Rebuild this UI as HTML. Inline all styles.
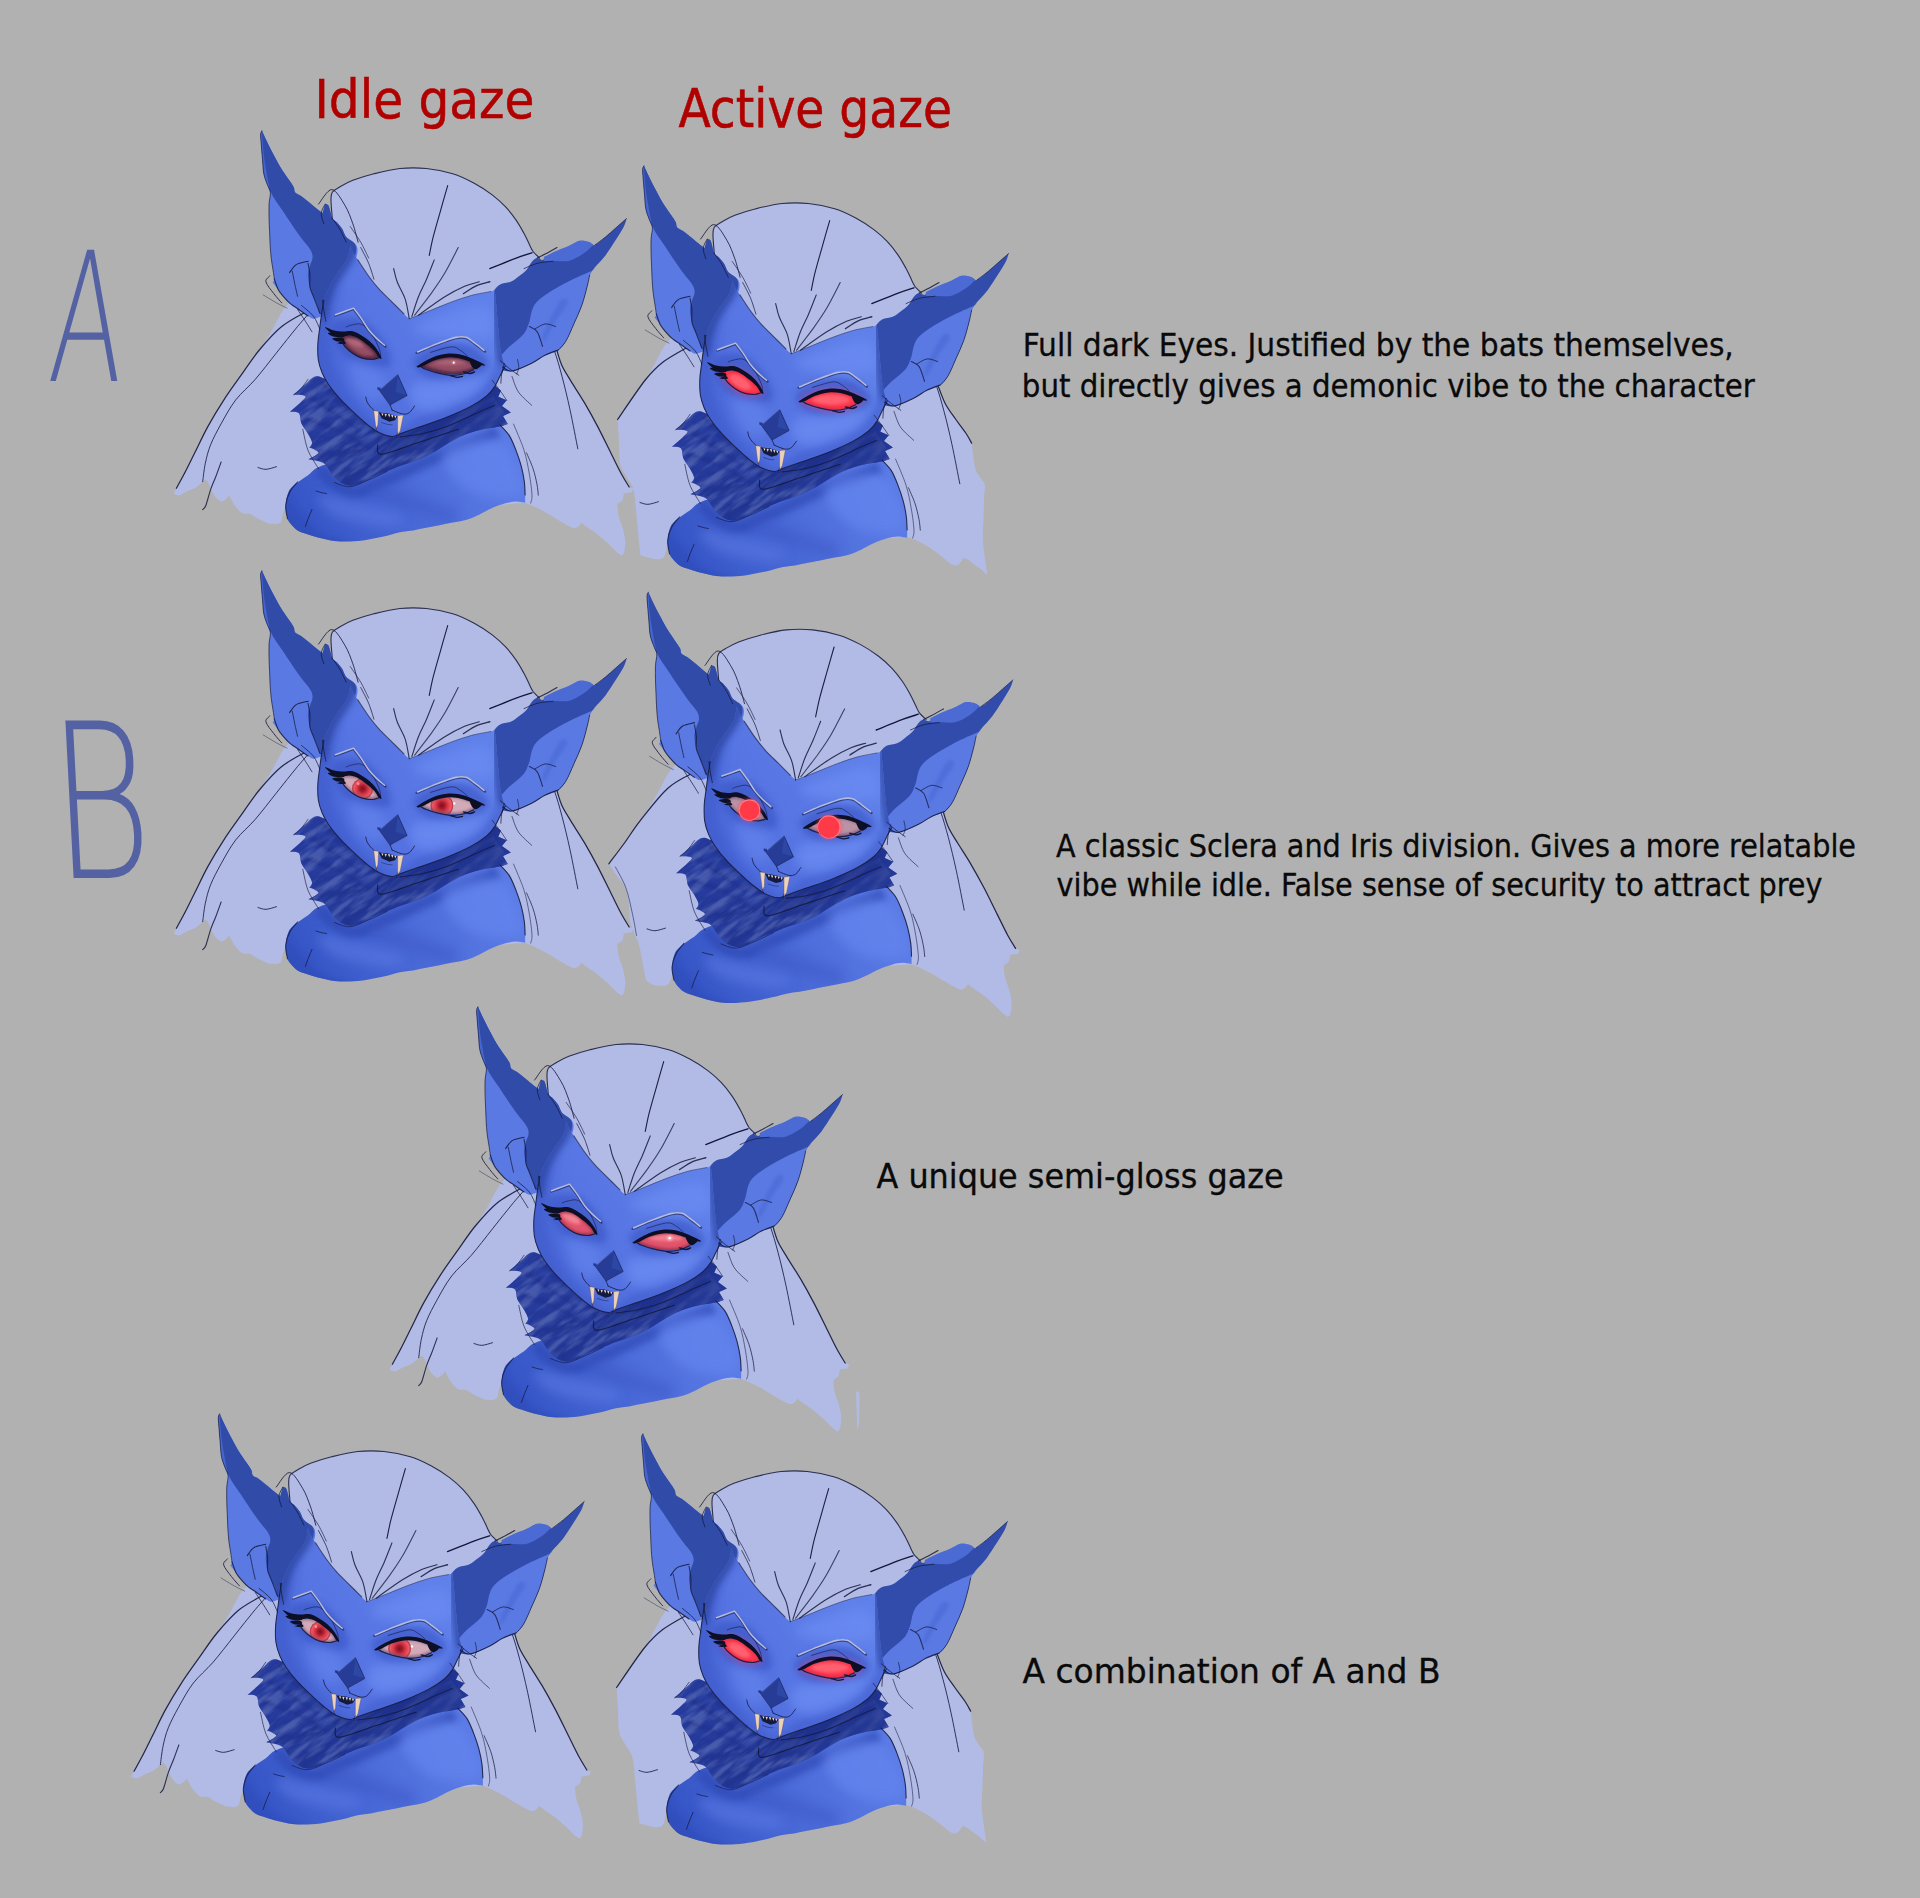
<!DOCTYPE html>
<html lang="en">
<head>
<meta charset="utf-8">
<title>Gaze variants</title>
<style>
html,body{margin:0;padding:0;background:#b1b1b1;}
body{width:1920px;height:1898px;overflow:hidden;position:relative;}
svg{position:absolute;left:0;top:0;display:block;}
.t{font-family:"DejaVu Sans Condensed","DejaVu Sans","Liberation Sans",sans-serif;}
.hd{font-size:52.5px;fill:#b10000;stroke:#b10000;stroke-width:.5px;}
.bd{font-size:32.5px;fill:#0a0a0a;stroke:#0a0a0a;stroke-width:.3px;}
.hw{font-family:"DejaVu Sans Light","DejaVu Sans","Liberation Sans",sans-serif;font-weight:200;fill:#4b5aa3;}
.ln{fill:none;stroke:#13173a;stroke-linecap:round;stroke-linejoin:round;}
</style>
</head>
<body>
<svg width="1920" height="1898" viewBox="0 0 1920 1898">
<defs>
<linearGradient id="gFace" gradientUnits="userSpaceOnUse" x1="680" y1="1150" x2="1250" y2="780">
<stop offset="0" stop-color="#4b69da"/><stop offset=".45" stop-color="#5775e3"/><stop offset="1" stop-color="#6081ea"/>
</linearGradient>
<linearGradient id="gBody" gradientUnits="userSpaceOnUse" x1="620" y1="1660" x2="1300" y2="1300">
<stop offset="0" stop-color="#3655c6"/><stop offset=".5" stop-color="#4a6ad8"/><stop offset="1" stop-color="#5b7be6"/>
</linearGradient>
<linearGradient id="gFur" gradientUnits="userSpaceOnUse" x1="560" y1="1100" x2="1300" y2="1350">
<stop offset="0" stop-color="#283ea2"/><stop offset=".5" stop-color="#21348f"/><stop offset="1" stop-color="#2a42a8"/>
</linearGradient>
<filter id="b6" x="-20%" y="-20%" width="140%" height="140%"><feGaussianBlur stdDeviation="6"/></filter>
<filter id="b12" x="-30%" y="-30%" width="160%" height="160%"><feGaussianBlur stdDeviation="12"/></filter>
<filter id="b20" x="-40%" y="-40%" width="180%" height="180%"><feGaussianBlur stdDeviation="20"/></filter>
<filter id="furtex" x="0" y="0" width="100%" height="100%"><feTurbulence type="fractalNoise" baseFrequency="0.008 0.04" numOctaves="3" seed="7" result="n"/><feColorMatrix in="n" type="matrix" values="0 0 0 0 0.10  0 0 0 0 0.15  0 0 0 0 0.47  0 0 0 3.5 -1.45" result="c"/><feComposite in="c" in2="SourceGraphic" operator="in"/></filter>
<filter id="furtex2" x="0" y="0" width="100%" height="100%"><feTurbulence type="fractalNoise" baseFrequency="0.009 0.045" numOctaves="2" seed="21" result="n"/><feColorMatrix in="n" type="matrix" values="0 0 0 0 0.27  0 0 0 0 0.37  0 0 0 0 0.78  0 0 0 3.0 -1.7" result="c"/><feComposite in="c" in2="SourceGraphic" operator="in"/></filter>

<g id="hairFull">
<path fill="#b2bbe6"  d="M530,770L600,640L692,450C692,450 687,396.7 687,380C687,363.3 686.5,358.3 692,350C697.5,341.7 707,337.5 720,330C733,322.5 748.3,313.3 770,305C791.7,296.7 820.2,287.5 850,280C879.8,272.5 915.8,263.3 949,260C982.2,256.7 1015.7,256.7 1049,260C1082.3,263.3 1119,270.8 1149,280C1179,289.2 1204,301.7 1229,315C1254,328.3 1279,345 1299,360C1319,375 1334,389.2 1349,405C1364,420.8 1377.3,438.3 1389,455C1400.7,471.7 1410.3,489.2 1419,505C1427.7,520.8 1435.2,538.3 1441,550C1446.8,561.7 1447.7,566.7 1454,575C1460.3,583.3 1479,600 1479,600L1500,800C1500,800 1533.3,914.2 1544,949C1554.7,983.8 1554.8,989 1564,1009C1573.2,1029 1584.8,1045.7 1599,1069C1613.2,1092.3 1632.3,1120.7 1649,1149C1665.7,1177.3 1682.3,1207.3 1699,1239C1715.7,1270.7 1734,1309 1749,1339C1764,1369 1777.3,1397.3 1789,1419C1800.7,1440.7 1819,1469 1819,1469L1834,1474L1829,1489L1799,1494L1794,1519L1774,1534C1774,1534 1775.7,1564 1779,1579C1782.3,1594 1789.8,1608.2 1794,1624C1798.2,1639.8 1803.2,1658.2 1804,1674C1804.8,1689.8 1801.5,1709.8 1799,1719C1796.5,1728.2 1789,1729 1789,1729C1789,1729 1777.3,1721.5 1769,1714C1760.7,1706.5 1750.7,1694.8 1739,1684C1727.3,1673.2 1714,1660.7 1699,1649C1684,1637.3 1659,1621.5 1649,1614C1639,1606.5 1639,1604 1639,1604C1639,1604 1626.5,1621.5 1619,1624C1611.5,1626.5 1605.7,1624 1594,1619C1582.3,1614 1564.8,1603.2 1549,1594C1533.2,1584.8 1514,1572.3 1499,1564C1484,1555.7 1471.5,1549.8 1459,1544C1446.5,1538.2 1424,1529 1424,1529L1000,1560L515,1544C515,1544 508.3,1559 505,1569C501.7,1579 502.5,1597.3 495,1604C487.5,1610.7 470.8,1609.8 460,1609C449.2,1608.2 440,1603.2 430,1599C420,1594.8 408.3,1588.7 400,1584C391.7,1579.3 388.3,1573.5 380,1571C371.7,1568.5 359.2,1573.5 350,1569C340.8,1564.5 331.7,1552.3 325,1544C318.3,1535.7 314.2,1526.5 310,1519C305.8,1511.5 300,1499 300,1499C300,1499 295,1509.8 290,1514C285,1518.2 276.7,1524.8 270,1524C263.3,1523.2 255.8,1515.7 250,1509C244.2,1502.3 239.7,1493.2 235,1484C230.3,1474.8 226.2,1461.2 222,1454C217.8,1446.8 210,1441 210,1441C210,1441 196.7,1453.5 190,1459C183.3,1464.5 178.3,1469.5 170,1474C161.7,1478.5 150,1481.5 140,1486C130,1490.5 118.3,1499.7 110,1501C101.7,1502.3 90,1494 90,1494C90,1494 93.3,1486.5 100,1474C106.7,1461.5 118.3,1441.5 130,1419C141.7,1396.5 155,1369 170,1339C185,1309 201.7,1272.3 220,1239C238.3,1205.7 258.3,1172.3 280,1139C301.7,1105.7 327.5,1070.7 350,1039C372.5,1007.3 396.7,975.5 415,949C433.3,922.5 445.8,904 460,880C474.2,856 488.3,823.3 500,805C511.7,786.7 530,770 530,770Z"/>
<path class="ln" stroke-width="4.7" opacity="0.9" d="M600,800C583.3,810 530.8,835.2 500,860C469.2,884.8 440,919.2 415,949C390,978.8 372.5,1007.3 350,1039C327.5,1070.7 301.7,1105.7 280,1139C258.3,1172.3 238.3,1205.7 220,1239C201.7,1272.3 185,1309 170,1339C155,1369 141.7,1396.5 130,1419C118.3,1441.5 105,1464.8 100,1474"/>
<path class="ln" stroke-width="3.7" opacity="0.85" d="M640,770C626.7,785 586.7,828.3 560,860C533.3,891.7 506.7,926.7 480,960C453.3,993.3 425.8,1030.2 400,1060C374.2,1089.8 346.7,1110.8 325,1139C303.3,1167.2 285.8,1200.7 270,1229C254.2,1257.3 240,1284 230,1309C220,1334 215,1355.7 210,1379C205,1402.3 201.7,1437.3 200,1449"/>
<path class="ln" stroke-width="4.2" opacity="0.85" d="M270,1374C266.7,1383.2 256.7,1411.5 250,1429C243.3,1446.5 236.3,1460.7 230,1479C223.7,1497.3 217,1526.3 212,1539C207,1551.7 202,1552.3 200,1555"/>
<path class="ln" stroke-width="3.7" opacity="0.85" d="M410,1395C415,1396.2 428.3,1402.5 440,1402C451.7,1401.5 473.3,1393.7 480,1392"/>
<path class="ln" stroke-width="4.7" opacity="0.9" d="M1544,949C1547.3,959 1554.8,989 1564,1009C1573.2,1029 1584.8,1045.7 1599,1069C1613.2,1092.3 1632.3,1120.7 1649,1149C1665.7,1177.3 1682.3,1207.3 1699,1239C1715.7,1270.7 1734,1309 1749,1339C1764,1369 1777.3,1397.3 1789,1419C1800.7,1440.7 1814,1460.7 1819,1469"/>
<path class="ln" stroke-width="3.7" opacity="0.85" d="M1500,870C1505.7,883.2 1523.3,919.2 1534,949C1544.7,978.8 1554,1011.5 1564,1049C1574,1086.5 1584,1128.2 1594,1174C1604,1219.8 1619,1299 1624,1324"/>
<path class="ln" stroke-width="3.2" opacity="0.75" d="M1374,1049C1378.2,1059 1386.5,1090.7 1399,1109C1411.5,1127.3 1440.7,1150.7 1449,1159"/>
<path class="ln" stroke-width="3.7" opacity="0.75" d="M1429,1339C1433.2,1349 1447.3,1379 1454,1399C1460.7,1419 1465.7,1442.2 1469,1459C1472.3,1475.8 1473.2,1493.2 1474,1500"/>
<path class="ln" stroke-width="3.2" opacity="0.65" d="M1380,1230C1386.7,1246.7 1410,1298.3 1420,1330C1430,1361.7 1435,1391.7 1440,1420C1445,1448.3 1449.2,1481.7 1450,1500C1450.8,1518.3 1445.8,1525 1445,1530"/>
</g>
<g id="hairA">
<path fill="#b2bbe6"  d="M530,770L600,640L692,450C692,450 687,396.7 687,380C687,363.3 686.5,358.3 692,350C697.5,341.7 707,337.5 720,330C733,322.5 748.3,313.3 770,305C791.7,296.7 820.2,287.5 850,280C879.8,272.5 915.8,263.3 949,260C982.2,256.7 1015.7,256.7 1049,260C1082.3,263.3 1119,270.8 1149,280C1179,289.2 1204,301.7 1229,315C1254,328.3 1279,345 1299,360C1319,375 1334,389.2 1349,405C1364,420.8 1377.3,438.3 1389,455C1400.7,471.7 1410.3,489.2 1419,505C1427.7,520.8 1435.2,538.3 1441,550C1446.8,561.7 1447.7,566.7 1454,575C1460.3,583.3 1479,600 1479,600L1500,800C1500,800 1527.5,908.3 1539,945C1550.5,981.7 1557.3,997.5 1569,1020C1580.7,1042.5 1595.7,1060.8 1609,1080C1622.3,1099.2 1639,1120 1649,1135C1659,1150 1669,1170 1669,1170C1669,1170 1671.5,1193.3 1674,1210C1676.5,1226.7 1678.2,1253.3 1684,1270C1689.8,1286.7 1703.2,1300 1709,1310C1714.8,1320 1717.8,1318.3 1719,1330C1720.2,1341.7 1716.8,1359.2 1716,1380C1715.2,1400.8 1714.8,1430 1714,1455C1713.2,1480 1710.2,1505 1711,1530C1711.8,1555 1716,1581.7 1719,1605C1722,1628.3 1729,1670 1729,1670C1729,1670 1710.7,1654.2 1699,1645C1687.3,1635.8 1669,1621.7 1659,1615C1649,1608.3 1639,1605 1639,1605C1639,1605 1626.5,1625.8 1619,1630C1611.5,1634.2 1605.7,1635.8 1594,1630C1582.3,1624.2 1564.8,1606.7 1549,1595C1533.2,1583.3 1515.7,1570 1499,1560C1482.3,1550 1462.3,1540.8 1449,1535C1435.7,1529.2 1419,1525 1419,1525L1000,1560L515,1544C515,1544 509.5,1589 502,1600C494.5,1611 485,1610.8 470,1610C455,1609.2 412,1595 412,1595C412,1595 409.8,1582.5 407,1555C404.2,1527.5 398.7,1465 395,1430C391.3,1395 390.8,1366.7 385,1345C379.2,1323.3 368.3,1315.8 360,1300C351.7,1284.2 340,1273.3 335,1250C330,1226.7 331.7,1188.3 330,1160C328.3,1131.7 325,1080 325,1080C325,1080 407.5,963.3 430,930C452.5,896.7 448.3,900.8 460,880C471.7,859.2 488.3,823.3 500,805C511.7,786.7 530,770 530,770Z"/>
<path class="ln" stroke-width="4.7" opacity="0.9" d="M600,800C583.3,810 528.3,838.3 500,860C471.7,881.7 459.2,893.3 430,930C400.8,966.7 342.5,1055 325,1080"/>
<path class="ln" stroke-width="3.7" opacity="0.85" d="M410,1395C415,1396.2 428.3,1402.5 440,1402C451.7,1401.5 473.3,1393.7 480,1392"/>
<path class="ln" stroke-width="4.7" opacity="0.9" d="M1539,945C1544,957.5 1557.3,997.5 1569,1020C1580.7,1042.5 1595.7,1060.8 1609,1080C1622.3,1099.2 1639,1120 1649,1135C1659,1150 1665.7,1164.2 1669,1170"/>
<path class="ln" stroke-width="3.7" opacity="0.85" d="M1500,870C1505.7,883.2 1523.3,919.2 1534,949C1544.7,978.8 1554,1011.5 1564,1049C1574,1086.5 1584,1128.2 1594,1174C1604,1219.8 1619,1299 1624,1324"/>
<path class="ln" stroke-width="3.2" opacity="0.75" d="M1374,1049C1378.2,1059 1386.5,1090.7 1399,1109C1411.5,1127.3 1440.7,1150.7 1449,1159"/>
<path class="ln" stroke-width="3.7" opacity="0.75" d="M1429,1339C1433.2,1349 1447.3,1379 1454,1399C1460.7,1419 1465.7,1442.2 1469,1459C1472.3,1475.8 1473.2,1493.2 1474,1500"/>
<path class="ln" stroke-width="3.2" opacity="0.65" d="M1380,1230C1386.7,1246.7 1410,1298.3 1420,1330C1430,1361.7 1435,1391.7 1440,1420C1445,1448.3 1449.2,1481.7 1450,1500C1450.8,1518.3 1445.8,1525 1445,1530"/>
</g>
<g id="hairB">
<path fill="#b2bbe6"  d="M530,770L600,640L692,450C692,450 687,396.7 687,380C687,363.3 686.5,358.3 692,350C697.5,341.7 707,337.5 720,330C733,322.5 748.3,313.3 770,305C791.7,296.7 820.2,287.5 850,280C879.8,272.5 915.8,263.3 949,260C982.2,256.7 1015.7,256.7 1049,260C1082.3,263.3 1119,270.8 1149,280C1179,289.2 1204,301.7 1229,315C1254,328.3 1279,345 1299,360C1319,375 1334,389.2 1349,405C1364,420.8 1377.3,438.3 1389,455C1400.7,471.7 1410.3,489.2 1419,505C1427.7,520.8 1435.2,538.3 1441,550C1446.8,561.7 1447.7,566.7 1454,575C1460.3,583.3 1479,600 1479,600L1500,800C1500,800 1533.3,914.2 1544,949C1554.7,983.8 1554.8,989 1564,1009C1573.2,1029 1584.8,1045.7 1599,1069C1613.2,1092.3 1632.3,1120.7 1649,1149C1665.7,1177.3 1682.3,1207.3 1699,1239C1715.7,1270.7 1734,1309 1749,1339C1764,1369 1777.3,1397.3 1789,1419C1800.7,1440.7 1819,1469 1819,1469L1834,1474L1829,1489L1799,1494L1794,1519L1774,1534C1774,1534 1775.7,1564 1779,1579C1782.3,1594 1789.8,1608.2 1794,1624C1798.2,1639.8 1803.2,1658.2 1804,1674C1804.8,1689.8 1801.5,1709.8 1799,1719C1796.5,1728.2 1789,1729 1789,1729C1789,1729 1777.3,1721.5 1769,1714C1760.7,1706.5 1750.7,1694.8 1739,1684C1727.3,1673.2 1714,1660.7 1699,1649C1684,1637.3 1659,1621.5 1649,1614C1639,1606.5 1639,1604 1639,1604C1639,1604 1626.5,1621.5 1619,1624C1611.5,1626.5 1605.7,1624 1594,1619C1582.3,1614 1564.8,1603.2 1549,1594C1533.2,1584.8 1514,1572.3 1499,1564C1484,1555.7 1471.5,1549.8 1459,1544C1446.5,1538.2 1424,1529 1424,1529L1000,1560L525,1533C525,1533 520,1560.5 515,1573C510,1585.5 506.7,1602.2 495,1608C483.3,1613.8 458.3,1611.3 445,1608C431.7,1604.7 415,1588 415,1588C415,1588 409.2,1554.7 405,1533C400.8,1511.3 395.8,1478.8 390,1458C384.2,1437.2 375.8,1423.8 370,1408C364.2,1392.2 358.3,1382.2 355,1363C351.7,1343.8 353.3,1314.7 350,1293C346.7,1271.3 342.5,1249.7 335,1233C327.5,1216.3 315,1207.2 305,1193C295,1178.8 275,1148 275,1148C275,1148 315,1095.5 335,1068C355,1040.5 374.2,1014.3 395,983C415.8,951.7 442.5,909.7 460,880C477.5,850.3 488.3,823.3 500,805C511.7,786.7 530,770 530,770Z"/>
<path class="ln" stroke-width="4.7" opacity="0.9" d="M600,800C583.3,810 534.2,829.5 500,860C465.8,890.5 422.5,948.3 395,983C367.5,1017.7 355,1040.5 335,1068C315,1095.5 285,1134.7 275,1148"/>
<path class="ln" stroke-width="3.2" opacity="0.65" d="M300,1160C306.7,1173.3 329.2,1210 340,1240C350.8,1270 358.3,1310 365,1340C371.7,1370 377.5,1406.7 380,1420"/>
<path class="ln" stroke-width="3.7" opacity="0.85" d="M420,1395C425,1396.2 438.3,1402.5 450,1402C461.7,1401.5 483.3,1393.7 490,1392"/>
<path class="ln" stroke-width="4.7" opacity="0.9" d="M1544,949C1547.3,959 1554.8,989 1564,1009C1573.2,1029 1584.8,1045.7 1599,1069C1613.2,1092.3 1632.3,1120.7 1649,1149C1665.7,1177.3 1682.3,1207.3 1699,1239C1715.7,1270.7 1734,1309 1749,1339C1764,1369 1777.3,1397.3 1789,1419C1800.7,1440.7 1814,1460.7 1819,1469"/>
<path class="ln" stroke-width="3.7" opacity="0.85" d="M1500,870C1505.7,883.2 1523.3,919.2 1534,949C1544.7,978.8 1554,1011.5 1564,1049C1574,1086.5 1584,1128.2 1594,1174C1604,1219.8 1619,1299 1624,1324"/>
<path class="ln" stroke-width="3.2" opacity="0.75" d="M1374,1049C1378.2,1059 1386.5,1090.7 1399,1109C1411.5,1127.3 1440.7,1150.7 1449,1159"/>
<path class="ln" stroke-width="3.7" opacity="0.75" d="M1429,1339C1433.2,1349 1447.3,1379 1454,1399C1460.7,1419 1465.7,1442.2 1469,1459C1472.3,1475.8 1473.2,1493.2 1474,1500"/>
<path class="ln" stroke-width="3.2" opacity="0.65" d="M1380,1230C1386.7,1246.7 1410,1298.3 1420,1330C1430,1361.7 1435,1391.7 1440,1420C1445,1448.3 1449.2,1481.7 1450,1500C1450.8,1518.3 1445.8,1525 1445,1530"/>
</g>
<g id="bodyface">
<path fill="url(#gBody)"  d="M650,1389C616.7,1401.3 616.7,1412.3 600,1424C583.3,1435.7 562.5,1448.2 550,1459C537.5,1469.8 530.8,1475.7 525,1489C519.2,1502.3 515.8,1524 515,1539C514.2,1554 517.5,1568.2 520,1579C522.5,1589.8 523.3,1594.8 530,1604C536.7,1613.2 548.3,1626.5 560,1634C571.7,1641.5 585,1644 600,1649C615,1654 633.3,1659.8 650,1664C666.7,1668.2 681.7,1672 700,1674C718.3,1676 739.2,1676.8 760,1676C780.8,1675.2 801.7,1672.7 825,1669C848.3,1665.3 879.3,1658.7 900,1654C920.7,1649.3 932.5,1644.3 949,1641C965.5,1637.7 982.3,1636.8 999,1634C1015.7,1631.2 1032.3,1627.3 1049,1624C1065.7,1620.7 1082.3,1617.3 1099,1614C1115.7,1610.7 1132.3,1607.3 1149,1604C1165.7,1600.7 1182.3,1599 1199,1594C1215.7,1589 1232.3,1581.5 1249,1574C1265.7,1566.5 1282.3,1556.2 1299,1549C1315.7,1541.8 1334,1535.2 1349,1531C1364,1526.8 1376.5,1524.3 1389,1524C1401.5,1523.7 1424,1529 1424,1529C1424,1529 1424.5,1512.3 1424,1499C1423.5,1485.7 1423.5,1467.3 1421,1449C1418.5,1430.7 1414.3,1409 1409,1389C1403.7,1369 1396.5,1348.2 1389,1329C1381.5,1309.8 1374,1289.8 1364,1274C1354,1258.2 1329,1234 1329,1234L1100,1250L800,1350C800,1350 683.3,1376.7 650,1389Z"/>
<clipPath id="cpBody"><path d="M650,1389C616.7,1401.3 616.7,1412.3 600,1424C583.3,1435.7 562.5,1448.2 550,1459C537.5,1469.8 530.8,1475.7 525,1489C519.2,1502.3 515.8,1524 515,1539C514.2,1554 517.5,1568.2 520,1579C522.5,1589.8 523.3,1594.8 530,1604C536.7,1613.2 548.3,1626.5 560,1634C571.7,1641.5 585,1644 600,1649C615,1654 633.3,1659.8 650,1664C666.7,1668.2 681.7,1672 700,1674C718.3,1676 739.2,1676.8 760,1676C780.8,1675.2 801.7,1672.7 825,1669C848.3,1665.3 879.3,1658.7 900,1654C920.7,1649.3 932.5,1644.3 949,1641C965.5,1637.7 982.3,1636.8 999,1634C1015.7,1631.2 1032.3,1627.3 1049,1624C1065.7,1620.7 1082.3,1617.3 1099,1614C1115.7,1610.7 1132.3,1607.3 1149,1604C1165.7,1600.7 1182.3,1599 1199,1594C1215.7,1589 1232.3,1581.5 1249,1574C1265.7,1566.5 1282.3,1556.2 1299,1549C1315.7,1541.8 1334,1535.2 1349,1531C1364,1526.8 1376.5,1524.3 1389,1524C1401.5,1523.7 1424,1529 1424,1529C1424,1529 1424.5,1512.3 1424,1499C1423.5,1485.7 1423.5,1467.3 1421,1449C1418.5,1430.7 1414.3,1409 1409,1389C1403.7,1369 1396.5,1348.2 1389,1329C1381.5,1309.8 1374,1289.8 1364,1274C1354,1258.2 1329,1234 1329,1234L1100,1250L800,1350C800,1350 683.3,1376.7 650,1389Z"/></clipPath>
<g clip-path="url(#cpBody)">
<path fill="none" stroke="#2f49b4" stroke-width="46" filter="url(#b12)" opacity=".7" d="M640,1400C660,1415 716.7,1483.3 760,1490C803.3,1496.7 843.3,1463.3 900,1440C956.7,1416.7 1030,1379.7 1100,1350C1170,1320.3 1283.3,1276.7 1320,1262"/>
<path fill="none" stroke="#3c57c3" stroke-width="60" filter="url(#b20)" opacity=".45" d="M839,1470C865.8,1480.8 946.3,1515.8 1000,1535C1053.7,1554.2 1134.2,1576.7 1161,1585"/>
<path fill="#6383ec" filter="url(#b20)" opacity=".75" d="M1120,1330C1145,1306.7 1253.3,1278.3 1300,1290C1346.7,1301.7 1383.3,1365 1400,1400C1416.7,1435 1425,1483.3 1400,1500C1375,1516.7 1291.7,1511.7 1250,1500C1208.3,1488.3 1171.7,1458.3 1150,1430C1128.3,1401.7 1095,1353.3 1120,1330Z"/>
<path fill="#5a78e2" filter="url(#b20)" opacity=".6" d="M640,1500C656.7,1491.7 746.7,1516.7 800,1530C853.3,1543.3 943.3,1565 960,1580C976.7,1595 943.3,1620 900,1620C856.7,1620 743.3,1600 700,1580C656.7,1560 623.3,1508.3 640,1500Z"/>
<path fill="#2f4bb8" filter="url(#b12)" opacity=".6" d="M500,1500C510,1476.7 536.7,1536.7 560,1560C583.3,1583.3 606.7,1618.3 640,1640C673.3,1661.7 783.3,1680 760,1690C736.7,1700 543.3,1731.7 500,1700C456.7,1668.3 490,1523.3 500,1500Z"/>
</g>
<path fill="url(#gFur)"  d="M635,1049C616.7,1048.8 605,1067.3 590,1079C575,1090.7 545,1119 545,1119C545,1119 585.8,1119 590,1124C594.2,1129 580,1139 570,1149C560,1159 530,1184 530,1184C530,1184 557.5,1181.5 565,1189C572.5,1196.5 570,1217.3 575,1229C580,1240.7 588.3,1247.3 595,1259C601.7,1270.7 613.3,1289 615,1299C616.7,1309 605,1319 605,1319C605,1319 640.8,1331.5 640,1339C639.2,1346.5 600,1364 600,1364C600,1364 638.3,1369.8 650,1374C661.7,1378.2 663.3,1381.5 670,1389C676.7,1396.5 681.7,1409 690,1419C698.3,1429 708.3,1441.5 720,1449C731.7,1456.5 746.7,1463.2 760,1464C773.3,1464.8 785,1459.8 800,1454C815,1448.2 833.3,1436.5 850,1429C866.7,1421.5 883.5,1415.7 900,1409C916.5,1402.3 930.8,1395.7 949,1389C967.2,1382.3 988.2,1377.3 1009,1369C1029.8,1360.7 1052.3,1350.7 1074,1339C1095.7,1327.3 1118.2,1310.7 1139,1299C1159.8,1287.3 1177.3,1277.3 1199,1269C1220.7,1260.7 1247.3,1254 1269,1249C1290.7,1244 1314.2,1242.2 1329,1239C1343.8,1235.8 1358,1230 1358,1230L1340,1200L1370,1186L1336,1162L1354,1140L1322,1126L1332,1104L1310,1085L1200,1100L900,1150L700,1080C700,1080 653.3,1049.2 635,1049Z"/>
<clipPath id="cpFur"><path d="M635,1049C616.7,1048.8 605,1067.3 590,1079C575,1090.7 545,1119 545,1119C545,1119 585.8,1119 590,1124C594.2,1129 580,1139 570,1149C560,1159 530,1184 530,1184C530,1184 557.5,1181.5 565,1189C572.5,1196.5 570,1217.3 575,1229C580,1240.7 588.3,1247.3 595,1259C601.7,1270.7 613.3,1289 615,1299C616.7,1309 605,1319 605,1319C605,1319 640.8,1331.5 640,1339C639.2,1346.5 600,1364 600,1364C600,1364 638.3,1369.8 650,1374C661.7,1378.2 663.3,1381.5 670,1389C676.7,1396.5 681.7,1409 690,1419C698.3,1429 708.3,1441.5 720,1449C731.7,1456.5 746.7,1463.2 760,1464C773.3,1464.8 785,1459.8 800,1454C815,1448.2 833.3,1436.5 850,1429C866.7,1421.5 883.5,1415.7 900,1409C916.5,1402.3 930.8,1395.7 949,1389C967.2,1382.3 988.2,1377.3 1009,1369C1029.8,1360.7 1052.3,1350.7 1074,1339C1095.7,1327.3 1118.2,1310.7 1139,1299C1159.8,1287.3 1177.3,1277.3 1199,1269C1220.7,1260.7 1247.3,1254 1269,1249C1290.7,1244 1314.2,1242.2 1329,1239C1343.8,1235.8 1358,1230 1358,1230L1340,1200L1370,1186L1336,1162L1354,1140L1322,1126L1332,1104L1310,1085L1200,1100L900,1150L700,1080C700,1080 653.3,1049.2 635,1049Z"/></clipPath>
<g clip-path="url(#cpFur)">
<g transform="rotate(-35 800 1280)"><rect x="400" y="900" width="900" height="800" fill="#000" filter="url(#furtex)"/><rect x="400" y="900" width="520" height="800" fill="#000" filter="url(#furtex2)" opacity=".3"/></g>
<path fill="#21348d" opacity=".55" filter="url(#b6)" d="M930,1285C963.3,1267.5 1046.7,1261.7 1100,1245C1153.3,1228.3 1212.5,1205.8 1250,1185C1287.5,1164.2 1304.2,1120 1325,1120C1345.8,1120 1373.3,1165 1375,1185C1376.7,1205 1364.2,1224.5 1335,1240C1305.8,1255.5 1247.5,1265 1200,1278C1152.5,1291 1100,1306 1050,1318C1000,1330 920,1355.5 900,1350C880,1344.5 896.7,1302.5 930,1285Z"/>
<path fill="none" stroke="#3a54bc" stroke-width="16" stroke-linecap="round" filter="url(#b12)" opacity=".45" d="M840,1290C820,1278.3 760,1240 720,1220C680,1200 620,1178.3 600,1170"/>
<path fill="none" stroke="#3a54bc" stroke-width="16" stroke-linecap="round" filter="url(#b12)" opacity=".45" d="M850,1300C831.7,1295 778.3,1278.3 740,1270C701.7,1261.7 640,1253.3 620,1250"/>
<path fill="none" stroke="#3a54bc" stroke-width="16" stroke-linecap="round" filter="url(#b12)" opacity=".45" d="M850,1320C833.3,1320 785,1320 750,1320C715,1320 658.3,1320 640,1320"/>
<path fill="none" stroke="#3a54bc" stroke-width="16" stroke-linecap="round" filter="url(#b12)" opacity=".45" d="M860,1340C845,1345 798.3,1360 770,1370C741.7,1380 703.3,1395 690,1400"/>
<path fill="none" stroke="#3a54bc" stroke-width="16" stroke-linecap="round" filter="url(#b12)" opacity=".45" d="M830,1260C813.3,1246.7 761.7,1206.7 730,1180C698.3,1153.3 655,1113.3 640,1100"/>
<path fill="none" stroke="#3a54bc" stroke-width="16" stroke-linecap="round" filter="url(#b12)" opacity=".45" d="M880,1360C870,1368.3 840,1395 820,1410C800,1425 770,1443.3 760,1450"/>
<path fill="none" stroke="#3a54bc" stroke-width="16" stroke-linecap="round" filter="url(#b12)" opacity=".45" d="M800,1230C790,1216.7 758.3,1173.3 740,1150C721.7,1126.7 698.3,1100 690,1090"/>
<path fill="none" stroke="#1c2c82" stroke-width="10" stroke-linecap="round" filter="url(#b6)" opacity=".5" d="M800,1300C783.3,1291.7 735,1265 700,1250C665,1235 608.3,1216.7 590,1210"/>
<path fill="none" stroke="#1c2c82" stroke-width="10" stroke-linecap="round" filter="url(#b6)" opacity=".5" d="M810,1330C795,1331.7 751.7,1336.7 720,1340C688.3,1343.3 636.7,1348.3 620,1350"/>
<path fill="none" stroke="#1c2c82" stroke-width="10" stroke-linecap="round" filter="url(#b6)" opacity=".5" d="M790,1250C775,1240 730,1210 700,1190C670,1170 625,1140 610,1130"/>
<path fill="none" stroke="#1c2c82" stroke-width="10" stroke-linecap="round" filter="url(#b6)" opacity=".5" d="M840,1380C830,1388.3 798.3,1416.7 780,1430C761.7,1443.3 738.3,1455 730,1460"/>
<path fill="none" stroke="#1c2c82" stroke-width="10" stroke-linecap="round" filter="url(#b6)" opacity=".5" d="M760,1180C750,1170 718.3,1138.3 700,1120C681.7,1101.7 658.3,1078.3 650,1070"/>
<path fill="#1f3190" opacity=".28" d="M635,1049C616.7,1048.8 605,1067.3 590,1079C575,1090.7 545,1119 545,1119C545,1119 585.8,1119 590,1124C594.2,1129 580,1139 570,1149C560,1159 530,1184 530,1184C530,1184 557.5,1181.5 565,1189C572.5,1196.5 570,1217.3 575,1229C580,1240.7 588.3,1247.3 595,1259C601.7,1270.7 613.3,1289 615,1299C616.7,1309 605,1319 605,1319C605,1319 640.8,1331.5 640,1339C639.2,1346.5 600,1364 600,1364C600,1364 638.3,1369.8 650,1374C661.7,1378.2 663.3,1381.5 670,1389C676.7,1396.5 681.7,1409 690,1419C698.3,1429 708.3,1441.5 720,1449C731.7,1456.5 746.7,1463.2 760,1464C773.3,1464.8 785,1459.8 800,1454C815,1448.2 833.3,1436.5 850,1429C866.7,1421.5 883.5,1415.7 900,1409C916.5,1402.3 930.8,1395.7 949,1389C967.2,1382.3 988.2,1377.3 1009,1369C1029.8,1360.7 1052.3,1350.7 1074,1339C1095.7,1327.3 1118.2,1310.7 1139,1299C1159.8,1287.3 1177.3,1277.3 1199,1269C1220.7,1260.7 1247.3,1254 1269,1249C1290.7,1244 1314.2,1242.2 1329,1239C1343.8,1235.8 1358,1230 1358,1230L1340,1200L1370,1186L1336,1162L1354,1140L1322,1126L1332,1104L1310,1085L1200,1100L900,1150L700,1080C700,1080 653.3,1049.2 635,1049Z"/>
<path fill="#1d2d86" filter="url(#b12)" opacity=".7" d="M700,1090C696.7,1098.3 750,1169.2 780,1200C810,1230.8 851.7,1260 880,1275C908.3,1290 913.3,1294.2 950,1290C986.7,1285.8 1050,1266.7 1100,1250C1150,1233.3 1213.3,1211.7 1250,1190C1286.7,1168.3 1311.7,1138.3 1320,1120C1328.3,1101.7 1353.3,1066.7 1300,1080C1246.7,1093.3 1083.3,1188.3 1000,1200C916.7,1211.7 850,1168.3 800,1150C750,1131.7 703.3,1081.7 700,1090Z"/>
</g>
<path fill="#5a79e3"  d="M425,117C425,117 420.5,122 420,130C419.5,138 420.8,149.2 422,165C423.2,180.8 425.3,205.8 427,225C428.7,244.2 429,264.2 432,280C435,295.8 440.8,308.3 445,320C449.2,331.7 455.8,337.5 457,350C458.2,362.5 452.8,378.3 452,395C451.2,411.7 451.7,432.5 452,450C452.3,467.5 453.3,483.3 454,500C454.7,516.7 455,533.3 456,550C457,566.7 458.2,584.2 460,600C461.8,615.8 465,631.7 467,645C469,658.3 472.3,672.2 472,680C471.7,687.8 465,692 465,692C465,692 479.5,710.3 487,720C494.5,729.7 502,740.8 510,750C518,759.2 525.8,767.5 535,775C544.2,782.5 554.2,787.5 565,795C575.8,802.5 590.5,814.2 600,820C609.5,825.8 612.8,830 622,830C631.2,830 655,820 655,820C655,820 685.8,770.8 700,745C714.2,719.2 726.7,688.3 740,665C753.3,641.7 772.5,623.3 780,605C787.5,586.7 790.8,569.2 785,555C779.2,540.8 754.2,530.8 745,520C735.8,509.2 735.8,499.2 730,490C724.2,480.8 716.3,471.7 710,465C703.7,458.3 696.2,456.7 692,450C687.8,443.3 687.5,433.3 685,425C682.5,416.7 680.3,405 677,400C673.7,395 665,395 665,395L655,430C655,430 639.2,417.5 630,410C620.8,402.5 609.2,392.5 600,385C590.8,377.5 583.3,370.8 575,365C566.7,359.2 555,355.8 550,350C545,344.2 549.2,338.3 545,330C540.8,321.7 533.3,312.5 525,300C516.7,287.5 505,271.7 495,255C485,238.3 474.2,217.5 465,200C455.8,182.5 446.7,163.8 440,150C433.3,136.2 425,117 425,117Z"/>
<path fill="#4666cf"  d="M425,117C425,117 420.5,122 420,130C419.5,138 420.8,149.2 422,165C423.2,180.8 425.3,205.8 427,225C428.7,244.2 429,264.2 432,280C435,295.8 440.8,308.3 445,320C449.2,331.7 447.8,334.2 457,350C466.2,365.8 500,415 500,415L560,400C560,400 552.5,361.7 550,350C547.5,338.3 549.2,338.3 545,330C540.8,321.7 533.3,312.5 525,300C516.7,287.5 505,271.7 495,255C485,238.3 474.2,217.5 465,200C455.8,182.5 446.7,163.8 440,150C433.3,136.2 425,117 425,117Z"/>
<path fill="#314ba9"  d="M425,117C425,117 433.3,136.2 440,150C446.7,163.8 455.8,182.5 465,200C474.2,217.5 485,238.3 495,255C505,271.7 516.7,287.5 525,300C533.3,312.5 540.8,321.7 545,330C549.2,338.3 545,344.2 550,350C555,355.8 566.7,359.2 575,365C583.3,370.8 590.8,377.5 600,385C609.2,392.5 620.8,402.5 630,410C639.2,417.5 655,430 655,430L665,395C665,395 673.7,395 677,400C680.3,405 682.5,416.7 685,425C687.5,433.3 687.8,443.3 692,450C696.2,456.7 703.7,458.3 710,465C716.3,471.7 724.2,480.8 730,490C735.8,499.2 736.7,510 745,520C753.3,530 775,536.7 780,550C785,563.3 782.5,581.7 775,600C767.5,618.3 745.8,643.3 735,660C724.2,676.7 716.7,686.7 710,700C703.3,713.3 699.2,726.7 695,740C690.8,753.3 687.5,765.8 685,780C682.5,794.2 686.7,820 680,825C673.3,830 652.5,817.5 645,810C637.5,802.5 638.8,790 635,780C631.2,770 626.7,761.7 622,750C617.3,738.3 610.7,724.2 607,710C603.3,695.8 600,678.3 600,665C600,651.7 604.2,640.8 607,630C609.8,619.2 616.5,610 617,600C617.5,590 617,582.5 610,570C603,557.5 586.7,540.8 575,525C563.3,509.2 552.5,493.3 540,475C527.5,456.7 513.3,435.8 500,415C486.7,394.2 470,375.8 460,350C450,324.2 445,286.7 440,260C435,233.3 432.5,213.8 430,190C427.5,166.2 425,117 425,117Z"/>
<path fill="#324cab"  d="M1809,450C1809,450 1782.3,473.3 1769,485C1755.7,496.7 1742.3,509.2 1729,520C1715.7,530.8 1699,545.8 1689,550C1679,554.2 1677.3,547.5 1669,545C1660.7,542.5 1647.3,535.5 1639,535C1630.7,534.5 1627.3,538.7 1619,542C1610.7,545.3 1600.7,549.5 1589,555C1577.3,560.5 1562.3,568.3 1549,575C1535.7,581.7 1519,589.7 1509,595C1499,600.3 1495.7,606.2 1489,607C1482.3,607.8 1475.7,598.7 1469,600C1462.3,601.3 1455.7,607.5 1449,615C1442.3,622.5 1437.3,635.8 1429,645C1420.7,654.2 1409,662.5 1399,670C1389,677.5 1380.7,685 1369,690C1357.3,695 1340.7,693.3 1329,700C1317.3,706.7 1308.8,719.2 1299,730C1289.2,740.8 1270,765 1270,765C1270,765 1280.8,788.8 1285,800C1289.2,811.2 1292.5,817.5 1295,832C1297.5,846.5 1298.3,869.5 1300,887C1301.7,904.5 1302.5,920.3 1305,937C1307.5,953.7 1312.5,973.2 1315,987C1317.5,1000.8 1320,1020 1320,1020C1320,1020 1352.5,1032.5 1374,1029C1395.5,1025.5 1428.2,1009 1449,999C1469.8,989 1482.2,977.3 1499,969C1515.8,960.7 1536.7,958 1550,949C1563.3,940 1569.2,931.5 1579,915C1588.8,898.5 1599,872.5 1609,850C1619,827.5 1630.7,803.3 1639,780C1647.3,756.7 1654,729.2 1659,710C1664,690.8 1664,677.5 1669,665C1674,652.5 1679,647.5 1689,635C1699,622.5 1715.7,607.5 1729,590C1742.3,572.5 1757.3,548.3 1769,530C1780.7,511.7 1792.3,493.3 1799,480C1805.7,466.7 1809,450 1809,450Z"/>
<path fill="#4b6ad4"  d="M1683,549C1683,549 1674,540.5 1665,538C1656,535.5 1641,531.7 1629,534C1617,536.3 1608,545.3 1593,552C1578,558.7 1555.3,566.7 1539,574C1522.7,581.3 1495,596 1495,596L1495,612C1495,612 1522.7,611.3 1539,611C1555.3,610.7 1575,614.8 1593,610C1611,605.2 1632,592.2 1647,582C1662,571.8 1683,549 1683,549Z"/>
<path fill="#5a79e3"  d="M1683,646C1683,646 1611,675.7 1575,696C1539,716.3 1489.8,742.7 1467,768C1444.2,793.3 1446.5,827.5 1438,848C1429.5,868.5 1429.2,875.5 1416,891C1402.8,906.5 1372.8,927.8 1359,941C1345.2,954.2 1333,970 1333,970L1342,1012C1342,1012 1356.2,1031.2 1374,1029C1391.8,1026.8 1428.2,1009 1449,999C1469.8,989 1482.2,977.3 1499,969C1515.8,960.7 1536.7,958 1550,949C1563.3,940 1569.2,931.5 1579,915C1588.8,898.5 1599,872.5 1609,850C1619,827.5 1630.7,803.3 1639,780C1647.3,756.7 1654,729.2 1659,710C1664,690.8 1664,677.5 1669,665C1674,652.5 1689,635 1689,635L1683,646Z"/>
<path fill="#4c6ad6" filter="url(#b6)" opacity=".7" d="M1560,760C1549.2,770 1531.7,806.7 1520,830C1508.3,853.3 1493.3,886.7 1490,900C1486.7,913.3 1491.7,920 1500,910C1508.3,900 1525.8,863.3 1540,840C1554.2,816.7 1581.7,783.3 1585,770C1588.3,756.7 1570.8,750 1560,760Z"/>
<path fill="url(#gFace)"  d="M760,550C760,550 767.2,570.5 772,580C776.8,589.5 779.5,592.5 789,607C798.5,621.5 815.7,648.7 829,667C842.3,685.3 854,700.3 869,717C884,733.7 903.2,751.2 919,767C934.8,782.8 953.2,801.5 964,812C974.8,822.5 984,830 984,830C984,830 1004.8,822.5 1019,817C1033.2,811.5 1048.2,805.3 1069,797C1089.8,788.7 1119,776.2 1144,767C1169,757.8 1194,748.7 1219,742C1244,735.3 1279,730.3 1294,727C1309,723.7 1309,722 1309,722C1309,722 1312.3,753.7 1314,772C1315.7,790.3 1317.3,812.8 1319,832C1320.7,851.2 1322.3,869.5 1324,887C1325.7,904.5 1326.5,920.3 1329,937C1331.5,953.7 1335.7,974.8 1339,987C1342.3,999.2 1349.8,1001.7 1349,1010C1348.2,1018.3 1340.7,1024.2 1334,1037C1327.3,1049.8 1318.2,1072.8 1309,1087C1299.8,1101.2 1294,1109.5 1279,1122C1264,1134.5 1245.7,1147.8 1219,1162C1192.3,1176.2 1152.3,1193.7 1119,1207C1085.7,1220.3 1047.3,1232 1019,1242C990.7,1252 965.7,1261.2 949,1267C932.3,1272.8 932.3,1277.8 919,1277C905.7,1276.2 885.7,1270.3 869,1262C852.3,1253.7 835.7,1240.3 819,1227C802.3,1213.7 785.7,1197.8 769,1182C752.3,1166.2 734,1148.7 719,1132C704,1115.3 689.8,1097.8 679,1082C668.2,1066.2 660.7,1052.8 654,1037C647.3,1021.2 641.8,1005.3 639,987C636.2,968.7 636.2,947 637,927C637.8,907 641.5,887 644,867C646.5,847 649.3,824.8 652,807C654.7,789.2 654.5,777.8 660,760C665.5,742.2 676.7,716.7 685,700C693.3,683.3 699.2,676.7 710,660C720.8,643.3 741.7,618.3 750,600C758.3,581.7 760,550 760,550Z"/>
<clipPath id="cpFace"><path d="M760,550C760,550 767.2,570.5 772,580C776.8,589.5 779.5,592.5 789,607C798.5,621.5 815.7,648.7 829,667C842.3,685.3 854,700.3 869,717C884,733.7 903.2,751.2 919,767C934.8,782.8 953.2,801.5 964,812C974.8,822.5 984,830 984,830C984,830 1004.8,822.5 1019,817C1033.2,811.5 1048.2,805.3 1069,797C1089.8,788.7 1119,776.2 1144,767C1169,757.8 1194,748.7 1219,742C1244,735.3 1279,730.3 1294,727C1309,723.7 1309,722 1309,722C1309,722 1312.3,753.7 1314,772C1315.7,790.3 1317.3,812.8 1319,832C1320.7,851.2 1322.3,869.5 1324,887C1325.7,904.5 1326.5,920.3 1329,937C1331.5,953.7 1335.7,974.8 1339,987C1342.3,999.2 1349.8,1001.7 1349,1010C1348.2,1018.3 1340.7,1024.2 1334,1037C1327.3,1049.8 1318.2,1072.8 1309,1087C1299.8,1101.2 1294,1109.5 1279,1122C1264,1134.5 1245.7,1147.8 1219,1162C1192.3,1176.2 1152.3,1193.7 1119,1207C1085.7,1220.3 1047.3,1232 1019,1242C990.7,1252 965.7,1261.2 949,1267C932.3,1272.8 932.3,1277.8 919,1277C905.7,1276.2 885.7,1270.3 869,1262C852.3,1253.7 835.7,1240.3 819,1227C802.3,1213.7 785.7,1197.8 769,1182C752.3,1166.2 734,1148.7 719,1132C704,1115.3 689.8,1097.8 679,1082C668.2,1066.2 660.7,1052.8 654,1037C647.3,1021.2 641.8,1005.3 639,987C636.2,968.7 636.2,947 637,927C637.8,907 641.5,887 644,867C646.5,847 649.3,824.8 652,807C654.7,789.2 654.5,777.8 660,760C665.5,742.2 676.7,716.7 685,700C693.3,683.3 699.2,676.7 710,660C720.8,643.3 741.7,618.3 750,600C758.3,581.7 760,550 760,550Z"/></clipPath>
<g clip-path="url(#cpFace)">
<path fill="#3f5bcb" filter="url(#b20)" opacity=".75" d="M600,600C616.7,486.7 685,586.7 700,620C715,653.3 691.7,745 690,800C688.3,855 683.3,903.3 690,950C696.7,996.7 711.7,1041.7 730,1080C748.3,1118.3 771.7,1150 800,1180C828.3,1210 876.7,1240 900,1260C923.3,1280 990,1293.3 940,1300C890,1306.7 656.7,1416.7 600,1300C543.3,1183.3 583.3,713.3 600,600Z"/>
<path fill="#3f5bcb" filter="url(#b12)" opacity=".55" d="M960,1300C893.3,1285.8 973.3,1235.8 1000,1215C1026.7,1194.2 1081.7,1190.8 1120,1175C1158.3,1159.2 1200,1142.5 1230,1120C1260,1097.5 1283.3,1066.7 1300,1040C1316.7,1013.3 1313.3,966.7 1330,960C1346.7,953.3 1388.3,943.3 1400,1000C1411.7,1056.7 1473.3,1250 1400,1300C1326.7,1350 1026.7,1314.2 960,1300Z"/>
<path fill="#405ccb" filter="url(#b12)" opacity=".8" d="M690,850C703.3,830 766.7,823.3 800,835C833.3,846.7 871.7,891.7 890,920C908.3,948.3 921.7,990 910,1005C898.3,1020 851.7,1018.3 820,1010C788.3,1001.7 741.7,981.7 720,955C698.3,928.3 676.7,870 690,850Z"/>
<path fill="#405ccb" filter="url(#b12)" opacity=".75" d="M1000,990C1005,967.5 1065,940 1100,930C1135,920 1179.2,918.3 1210,930C1240.8,941.7 1285,977.5 1285,1000C1285,1022.5 1245.8,1054.2 1210,1065C1174.2,1075.8 1105,1077.5 1070,1065C1035,1052.5 995,1012.5 1000,990Z"/>
<path fill="#6c8cf2" filter="url(#b20)" opacity=".7" d="M1000,860C1016.7,841.7 1151.7,800 1200,790C1248.3,780 1275,781.7 1290,800C1305,818.3 1321.7,883.3 1290,900C1258.3,916.7 1148.3,906.7 1100,900C1051.7,893.3 983.3,878.3 1000,860Z"/>
<path fill="#6c8cf2" filter="url(#b20)" opacity=".75" d="M1000,1080C1025,1063.3 1106.7,1066.7 1150,1060C1193.3,1053.3 1248.3,1031.7 1260,1040C1271.7,1048.3 1250,1088.3 1220,1110C1190,1131.7 1116.7,1161.7 1080,1170C1043.3,1178.3 1013.3,1175 1000,1160C986.7,1145 975,1096.7 1000,1080Z"/>
<path fill="#6686ee" filter="url(#b20)" opacity=".6" d="M760,1000C771.7,985 836.7,1006.7 860,1020C883.3,1033.3 900,1058.3 900,1080C900,1101.7 878.3,1145 860,1150C841.7,1155 806.7,1135 790,1110C773.3,1085 748.3,1015 760,1000Z"/>
</g>
<g clip-path="url(#cpFace)">
<path fill="none" stroke="#314ba9" stroke-width="46" filter="url(#b12)" opacity=".9" d="M770,540C766.7,550 760,580 750,600C740,620 720.8,643.3 710,660C699.2,676.7 691.7,686.7 685,700C678.3,713.3 674.5,726.7 670,740C665.5,753.3 661.3,765 658,780C654.7,795 651.3,821.7 650,830"/>
<path fill="none" stroke="#324cab" stroke-width="40" filter="url(#b12)" opacity=".85" d="M1315,715C1316.2,734.5 1319.5,795 1322,832C1324.5,869 1326.2,909 1330,937C1333.8,965 1342.5,989.5 1345,1000"/>
</g>
<path class="ln" opacity=".85" stroke-width="4" d="M660,760C658.7,767.8 654.7,789.2 652,807C649.3,824.8 646.5,847 644,867C641.5,887 637.8,907 637,927C636.2,947 636.2,968.7 639,987C641.8,1005.3 647.3,1021.2 654,1037C660.7,1052.8 668.2,1066.2 679,1082C689.8,1097.8 704,1115.3 719,1132C734,1148.7 752.3,1166.2 769,1182C785.7,1197.8 802.3,1213.7 819,1227C835.7,1240.3 852.3,1253.7 869,1262C885.7,1270.3 905.7,1276.2 919,1277C932.3,1277.8 932.3,1272.8 949,1267C965.7,1261.2 990.7,1252 1019,1242C1047.3,1232 1085.7,1220.3 1119,1207C1152.3,1193.7 1192.3,1176.2 1219,1162C1245.7,1147.8 1264,1134.5 1279,1122C1294,1109.5 1299.8,1101.2 1309,1087C1318.2,1072.8 1327.3,1049.8 1334,1037C1340.7,1024.2 1346.5,1014.5 1349,1010"/>
<path class="ln" opacity=".6" stroke-width="3" d="M984,830C989.8,827.8 1004.8,822.5 1019,817C1033.2,811.5 1048.2,805.3 1069,797C1089.8,788.7 1119,776.2 1144,767C1169,757.8 1194,748.7 1219,742C1244,735.3 1281.5,729.5 1294,727"/>
<path fill="#263c96"  d="M941,1044L976,1122L911,1158L872,1104Z"/>
<path fill="#2d47a5"  d="M941,1044L976,1122L932,1108Z"/>
<path fill="#243a90"  d="M862,1090L876,1092L874,1104L864,1100Z"/>
<path class="ln" opacity=".6" stroke-width="3" d="M941,1044L976,1122L911,1158L872,1104Z"/>
<path class="ln" stroke-width="3" d="M911,1158C911.8,1159.7 914.7,1164.8 916,1168C917.3,1171.2 918.5,1175.5 919,1177"/>
<path class="ln" stroke-width="3" d="M819,1127C820.2,1130.8 821,1141.7 826,1150C831,1158.3 841.3,1170.7 849,1177C856.7,1183.3 868.2,1186.2 872,1188"/>
<path class="ln" stroke-width="3" d="M919,1177C925.7,1179.5 948.2,1190.3 959,1192C969.8,1193.7 976.5,1192 984,1187C991.5,1182 1000.7,1166.2 1004,1162"/>
<path fill="#141a3e"  d="M869,1186L905,1190L940,1201L930,1216L909,1221L879,1208Z"/>
<path fill="#e9d5c4"  d="M878,1189L886,1190L883,1200ZM890,1191L899,1192L895,1203ZM903,1192L912,1194L908,1205ZM915,1195L924,1197L920,1207ZM927,1198L935,1200L931,1209Z"/>
<path fill="#ecd2bb" stroke="#5a4660" stroke-width="1.5" d="M849,1179L868,1182L865,1234L858,1248Z"/>
<path fill="#ecd2bb" stroke="#5a4660" stroke-width="1.5" d="M940,1198L962,1196L950,1256L940,1272Z"/>
<path class="ln" stroke-width="2.5" opacity=".7" d="M879,1224C882.5,1225.2 893.3,1229.5 900,1231C906.7,1232.5 915.8,1232.7 919,1233"/>
<path class="ln" stroke-width="2.5" opacity=".7" d="M858,1244C858.3,1245.3 859.2,1249.3 860,1252C860.8,1254.7 862.5,1258.7 863,1260"/>
<path class="ln" stroke-width="2.5" opacity=".7" d="M940,1264C939.5,1265.3 937.7,1269.3 937,1272C936.3,1274.7 936.2,1278.7 936,1280"/>
<path class="ln" stroke-width="4.2" opacity="0.85" d="M692,450C691.2,438.3 687,396.7 687,380C687,363.3 686.5,358.3 692,350C697.5,341.7 707,337.5 720,330C733,322.5 748.3,313.3 770,305C791.7,296.7 820.2,287.5 850,280C879.8,272.5 915.8,263.3 949,260C982.2,256.7 1015.7,256.7 1049,260C1082.3,263.3 1119,270.8 1149,280C1179,289.2 1204,301.7 1229,315C1254,328.3 1279,345 1299,360C1319,375 1334,389.2 1349,405C1364,420.8 1377.3,438.3 1389,455C1400.7,471.7 1410.3,489.2 1419,505C1427.7,520.8 1435.2,538.3 1441,550C1446.8,561.7 1447.7,566.7 1454,575C1460.3,583.3 1474.8,595.8 1479,600"/>
<path class="ln" stroke-width="3.7" opacity="0.85" d="M640,395C648.3,385.8 673.3,339.2 690,340C706.7,340.8 726.7,378.3 740,400C753.3,421.7 761.7,446.7 770,470C778.3,493.3 786.7,528.3 790,540"/>
<path class="ln" stroke-width="4.2" opacity="0.9500000000000001" d="M1130,325C1125,342.5 1109.2,397.5 1100,430C1090.8,462.5 1081.7,493.3 1075,520C1068.3,546.7 1062.5,578.3 1060,590"/>
<path class="ln" stroke-width="4.2" opacity="0.85" d="M984,830C981.5,817.8 976.5,780 969,757C961.5,734 946.3,711.5 939,692C931.7,672.5 927.3,648.7 925,640"/>
<path class="ln" stroke-width="4.2" opacity="0.85" d="M994,822C998.2,809.5 1009.8,770.3 1019,747C1028.2,723.7 1039,705.3 1049,682C1059,658.7 1074,619.5 1079,607"/>
<path class="ln" stroke-width="4.2" opacity="0.75" d="M1004,817C1014.8,802.8 1049.8,758.7 1069,732C1088.2,705.3 1102.2,685.7 1119,657C1135.8,628.3 1161.5,576.2 1170,560"/>
<path class="ln" stroke-width="4.2" opacity="0.85" d="M1019,817C1035.7,805.3 1089.8,765.3 1119,747C1148.2,728.7 1172.2,716.5 1194,707C1215.8,697.5 1240.7,692.8 1250,690"/>
<path class="ln" stroke-width="4.2" opacity="0.65" d="M789,607C795.7,617 815.7,648.7 829,667C842.3,685.3 854,700.3 869,717C884,733.7 903.2,751.2 919,767C934.8,782.8 956.5,804.5 964,812"/>
<path class="ln" stroke-width="3.7" opacity="0.75" d="M800,560C805,570 821.7,600 830,620C838.3,640 846.7,670 850,680"/>
<path class="ln" stroke-width="3.7" opacity="0.65" d="M760,480C766.7,490 788.3,520 800,540C811.7,560 825,590 830,600"/>
<path class="ln" stroke-width="5.2" opacity="1" d="M1290,640C1306.7,633.3 1363.3,610 1390,600C1416.7,590 1440,583.3 1450,580"/>
<path class="ln" stroke-width="5.2" opacity="0.85" d="M1190,735C1198.3,730 1223.3,712.5 1240,705C1256.7,697.5 1281.7,692.5 1290,690"/>
<path class="ln" stroke-width="4.2" opacity="0.85" d="M1329,1234C1334.8,1240.7 1354,1258.2 1364,1274C1374,1289.8 1381.5,1309.8 1389,1329C1396.5,1348.2 1403.7,1369 1409,1389C1414.3,1409 1418.5,1430.7 1421,1449C1423.5,1467.3 1423.5,1490.7 1424,1499"/>
<path class="ln" stroke-width="4.2" opacity="0.75" d="M560,1450C555,1456.5 537.5,1474.2 530,1489C522.5,1503.8 516.3,1522.2 515,1539C513.7,1555.8 520.8,1581.5 522,1590"/>
<path class="ln" stroke-width="3.7" opacity="0.75" d="M615,1554C612.5,1560 604.2,1579.2 600,1590C595.8,1600.8 591.7,1614.2 590,1619"/>
<path class="ln" stroke-width="3.7" opacity="0.75" d="M630,1484C633.3,1485 643.3,1488.3 650,1490C656.7,1491.7 666.7,1493.3 670,1494"/>
<path class="ln" stroke-width="4.2" opacity="0.75" d="M949,1279C961.5,1277.3 999,1274 1024,1269C1049,1264 1074,1257.3 1099,1249C1124,1240.7 1149,1229.8 1174,1219C1199,1208.2 1226.5,1194 1249,1184C1271.5,1174 1299,1163.2 1309,1159"/>
<path class="ln" stroke-width="4.2" opacity="0.85" d="M864,1310C866.7,1315.8 854,1346.7 880,1345C906,1343.3 971.7,1315.8 1020,1300C1068.3,1284.2 1145,1258.3 1170,1250"/>
<path class="ln" stroke-width="3.7" opacity="0.65" d="M700,1452C710,1454.7 738.3,1469.7 760,1468C781.7,1466.3 806.7,1451.7 830,1442C853.3,1432.3 888.3,1415.3 900,1410"/>
<path class="ln" stroke-width="3.7" opacity="0.7000000000000001" d="M425,117C424.2,119.2 420.5,122 420,130C419.5,138 420.8,149.2 422,165C423.2,180.8 425.3,205.8 427,225C428.7,244.2 429,264.2 432,280C435,295.8 440.8,308.3 445,320C449.2,331.7 455.8,337.5 457,350C458.2,362.5 452.8,378.3 452,395C451.2,411.7 451.7,432.5 452,450C452.3,467.5 453.3,483.3 454,500C454.7,516.7 455,533.3 456,550C457,566.7 458.2,584.2 460,600C461.8,615.8 465,631.7 467,645C469,658.3 471.2,674.2 472,680"/>
<path class="ln" stroke-width="4.2" opacity="0.85" d="M530,655C534.2,650 543.3,632.2 555,625C566.7,617.8 592.5,614.2 600,612"/>
<path class="ln" stroke-width="3.7" opacity="0.75" d="M540,650C541.7,658.3 546.7,684.2 550,700C553.3,715.8 558.3,737.5 560,745"/>
<path class="ln" stroke-width="4.2" opacity="0.85" d="M472,680C474.5,686.7 480.7,708.3 487,720C493.3,731.7 502,740.8 510,750C518,759.2 525.8,767.5 535,775C544.2,782.5 554.2,787.5 565,795C575.8,802.5 594.2,815.8 600,820"/>
<path class="ln" stroke-width="4.2" opacity="0.75" d="M600,620C601.2,627.5 605.8,650 607,665C608.2,680 604.5,695.8 607,710C609.5,724.2 615.7,733.3 622,750C628.3,766.7 641.2,800 645,810"/>
<path class="ln" stroke-width="3.7" opacity="0.65" d="M1809,450C1802.3,455.8 1782.3,473.3 1769,485C1755.7,496.7 1742.3,509.2 1729,520C1715.7,530.8 1695.7,545 1689,550"/>
<path class="ln" stroke-width="3.7" opacity="0.7000000000000001" d="M1550,949C1554.8,943.3 1569.2,931.5 1579,915C1588.8,898.5 1599,872.5 1609,850C1619,827.5 1630.7,803.3 1639,780C1647.3,756.7 1654,729.2 1659,710C1664,690.8 1667.3,672.5 1669,665"/>
<path class="ln" stroke-width="4.2" opacity="0.85" d="M1339,1014C1344.8,1016.5 1355.7,1031.5 1374,1029C1392.3,1026.5 1428.2,1009 1449,999C1469.8,989 1482.2,977.3 1499,969C1515.8,960.7 1541.5,952.3 1550,949"/>
<path class="ln" stroke-width="4.2" opacity="0.75" d="M1440,860C1445,863.3 1461.7,867.5 1470,880C1478.3,892.5 1486.7,925.8 1490,935"/>
<path class="ln" stroke-width="3.7" opacity="0.75" d="M1460,870C1466.7,866.7 1486.7,851.7 1500,850C1513.3,848.3 1533.3,858.3 1540,860"/>
<path class="ln" stroke-width="3.7" opacity="0.85" d="M455,668C452.5,671.7 437.5,678.8 440,690C442.5,701.2 460,721.7 470,735C480,748.3 495,764.2 500,770"/>
<path class="ln" stroke-width="3.7" opacity="0.75" d="M560,795C565,802.5 580.8,825.8 590,840C599.2,854.2 610.8,873.3 615,880"/>
<path class="ln" stroke-width="3.7" opacity="0.75" d="M575,780C582.5,786.7 608.3,805 620,820C631.7,835 640.8,861.7 645,870"/>
<path class="ln" stroke-width="3.7" opacity="0.75" d="M655,760C655.8,766.7 657.8,786.7 660,800C662.2,813.3 666.7,833.3 668,840"/>
<path class="ln" stroke-width="3.2" opacity="0.5" d="M430,740C438.3,745 465,761.7 480,770C495,778.3 513.3,786.7 520,790"/>
<path class="ln" stroke-width="3.7" opacity="0.75" d="M1330,990C1335.8,995 1353.3,1010.8 1365,1020C1376.7,1029.2 1394.2,1040.8 1400,1045"/>
<path class="ln" stroke-width="3.7" opacity="0.75" d="M1345,1000C1343.3,1006.7 1337.2,1027.5 1335,1040C1332.8,1052.5 1332.5,1069.2 1332,1075"/>
<path class="ln" stroke-width="3.7" opacity="0.65" d="M1395,985C1395.8,990 1400.5,1005.8 1400,1015C1399.5,1024.2 1393.3,1035.8 1392,1040"/>
<path class="ln" stroke-width="4.2" opacity="0.85" d="M1470,600C1475,597.5 1487.5,591.7 1500,585C1512.5,578.3 1537.5,564.2 1545,560"/>
<path class="ln" stroke-width="3.7" opacity="0.75" d="M1420,640C1428.3,636.7 1451.7,624.7 1470,620C1488.3,615.3 1520,613.3 1530,612"/>
<path class="ln" stroke-width="3.7" opacity="0.75" d="M665,395C662.5,400.8 650.8,417.5 650,430C649.2,442.5 658.3,463.3 660,470"/>
<path class="ln" stroke-width="3.7" opacity="0.75" d="M692,450C696.7,456.7 711.2,475 720,490C728.8,505 740.8,531.7 745,540"/>
<path class="ln" stroke-width="3.7" opacity="0.65" d="M600,1060C595,1066.7 579.2,1090.2 570,1100C560.8,1109.8 549.2,1115.8 545,1119"/>
<path class="ln" stroke-width="3.7" opacity="0.65" d="M580,1250C583.3,1263.3 590,1305 600,1330C610,1355 633.3,1388.3 640,1400"/>
<path class="ln" stroke-width="3.7" opacity="0.65" d="M1299,1064C1304.2,1070.8 1320.8,1092.3 1330,1105C1339.2,1117.7 1350,1134.2 1354,1140"/>
</g>
<g id="facetop">
<path fill="#0d0f24"  d="M664,862C663.8,858.7 687.3,872.2 699,875C710.7,877.8 723,878.7 734,879C745,879.3 754.5,875.2 765,877C775.5,878.8 785.7,883.7 797,890C808.3,896.3 822.2,905.5 833,915C843.8,924.5 854.3,936.2 862,947C869.7,957.8 878,975 879,980C880,985 872.5,981.5 868,977C863.5,972.5 859.3,961.2 852,953C844.7,944.8 834,936 824,928C814,920 802.7,910.7 792,905C781.3,899.3 770.3,895.3 760,894C749.7,892.7 740,896.8 730,897C720,897.2 711,900.8 700,895C689,889.2 664.2,865.3 664,862Z"/>
<path fill="#0d0f24"  d="M676,884C680.5,882.2 716.8,885.5 727,888C737.2,890.5 741.5,897.2 737,899C732.5,900.8 710.2,901.5 700,899C689.8,896.5 671.5,885.8 676,884Z"/>
<path fill="#0d0f24"  d="M692,906C694,903.5 719.3,900.8 727,902C734.7,903.2 740,910.5 738,913C736,915.5 722.7,918.2 715,917C707.3,915.8 690,908.5 692,906Z"/>
<path fill="#0d0f24"  d="M712,924C710.8,922.3 730,914.8 735,915C740,915.2 745.8,923.5 742,925C738.2,926.5 713.2,925.7 712,924Z"/>
<path class="ln" stroke="#0d0f24" stroke-width="4.5" opacity=".9" d="M725,912C727.7,916.2 733.5,928.7 741,937C748.5,945.3 759.3,954.8 770,962C780.7,969.2 792.7,976.2 805,980C817.3,983.8 833.5,985.2 844,985C854.5,984.8 864,980 868,979"/>
<path fill="#0d0f24"  d="M1014,1010C1021,1004 1053.3,984.8 1072,977C1090.7,969.2 1109,965 1126,963C1143,961 1158.7,962.3 1174,965C1189.3,967.7 1201.7,972.2 1218,979C1234.3,985.8 1268.3,1001.8 1272,1006C1275.7,1010.2 1250,1006.3 1240,1004C1230,1001.7 1223.7,996.2 1212,992C1200.3,987.8 1184.3,981.5 1170,979C1155.7,976.5 1141.8,975.2 1126,977C1110.2,978.8 1091,984 1075,990C1059,996 1040.2,1009.7 1030,1013C1019.8,1016.3 1007,1016 1014,1010Z"/>
<path fill="#0d0f24"  d="M1215,984C1220.7,982.7 1252.2,997.7 1256,1004C1259.8,1010.3 1243.7,1020.7 1238,1022C1232.3,1023.3 1225.8,1018.3 1222,1012C1218.2,1005.7 1209.3,985.3 1215,984Z"/>
<path class="ln" stroke="#0d0f24" stroke-width="4.5" opacity=".9" d="M1229,1024C1223,1026.5 1207.3,1035.5 1193,1039C1178.7,1042.5 1160.2,1045.5 1143,1045C1125.8,1044.5 1106,1039.8 1090,1036C1074,1032.2 1057.7,1026.2 1047,1022C1036.3,1017.8 1029.5,1012.8 1026,1011"/>
<path class="ln" stroke="#0d0f24" stroke-width="5.5" d="M1190,1032C1194.2,1033 1208,1038 1215,1038C1222,1038 1229.2,1033 1232,1032"/>
<path class="ln" stroke="#0d0f24" stroke-width="5" d="M1140,1046C1144.2,1047.2 1157.3,1052.5 1165,1053C1172.7,1053.5 1182.5,1049.7 1186,1049"/>
<path class="ln" stroke-width="3" opacity=".75" d="M745,862C748,860.8 753,856.7 763,855C773,853.3 791.3,845.5 805,852C818.7,858.5 834.2,878.7 845,894C855.8,909.3 864.8,930.8 870,944C875.2,957.2 875,968.2 876,973"/>
<path class="ln" stroke-width="3" opacity=".75" d="M1065,958C1078.2,954.5 1125,938.2 1144,937C1163,935.8 1168.8,945.2 1179,951C1189.2,956.8 1200.7,968.5 1205,972"/>
<path fill="none" stroke="#1b2250" stroke-width="9" opacity=".6" stroke-linecap="round" d="M704,818C715.5,813.8 773,793 773,793C773,793 792.5,818.3 802,832C811.5,845.7 820.5,862.5 830,875C839.5,887.5 848.3,896.8 859,907C869.7,917.2 888.2,931.2 894,936"/>
<path fill="none" stroke="#b4bbdf" stroke-width="6" stroke-linecap="round" d="M704,815C715.5,810.8 773,790 773,790C773,790 792.5,815.3 802,829C811.5,842.7 820.5,859.5 830,872C839.5,884.5 849,894.2 859,904C869,913.8 884.8,926.5 890,931"/>
<path fill="none" stroke="#1b2250" stroke-width="9" opacity=".6" stroke-linecap="round" d="M1012,960C1025,954.7 1065.2,937.3 1090,928C1114.8,918.7 1142.7,908 1161,904C1179.3,900 1187.5,900 1200,904C1212.5,908 1224,919.5 1236,928C1248,936.5 1266,950.5 1272,955"/>
<path fill="none" stroke="#b4bbdf" stroke-width="6" stroke-linecap="round" d="M1016,956C1028.3,950.8 1065.8,934.2 1090,925C1114.2,915.8 1142.7,905 1161,901C1179.3,897 1187.5,897 1200,901C1212.5,905 1224.7,916.8 1236,925C1247.3,933.2 1262.7,945.8 1268,950"/>
</g>

<clipPath id="cpLE"><path d="M722,901C726.5,897.8 739.8,893 752,893C764.2,893 782,895.5 795,901C808,906.5 819.3,916.5 830,926C840.7,935.5 852.7,949.3 859,958C865.3,966.7 870.5,973.8 868,978C865.5,982.2 854.5,982.7 844,983C833.5,983.3 817.3,983.5 805,980C792.7,976.5 780.7,969.2 770,962C759.3,954.8 748.5,945.3 741,937C733.5,928.7 728.2,918 725,912C721.8,906 717.5,904.2 722,901Z"/></clipPath>
<clipPath id="cpRE"><path d="M1028,1008C1032.2,1002 1055.7,989.2 1072,983C1088.3,976.8 1109.3,972.7 1126,971C1142.7,969.3 1157.2,970.3 1172,973C1186.8,975.7 1202,981.7 1215,987C1228,992.3 1247.7,999 1250,1005C1252.3,1011 1238.5,1017.7 1229,1023C1219.5,1028.3 1207.3,1033.8 1193,1037C1178.7,1040.2 1160.2,1042.7 1143,1042C1125.8,1041.3 1106,1036.8 1090,1033C1074,1029.2 1057.3,1023.2 1047,1019C1036.7,1014.8 1023.8,1014 1028,1008Z"/></clipPath>
<path id="shLE" d="M722,901C726.5,897.8 739.8,893 752,893C764.2,893 782,895.5 795,901C808,906.5 819.3,916.5 830,926C840.7,935.5 852.7,949.3 859,958C865.3,966.7 870.5,973.8 868,978C865.5,982.2 854.5,982.7 844,983C833.5,983.3 817.3,983.5 805,980C792.7,976.5 780.7,969.2 770,962C759.3,954.8 748.5,945.3 741,937C733.5,928.7 728.2,918 725,912C721.8,906 717.5,904.2 722,901Z"/>
<path id="shRE" d="M1028,1008C1032.2,1002 1055.7,989.2 1072,983C1088.3,976.8 1109.3,972.7 1126,971C1142.7,969.3 1157.2,970.3 1172,973C1186.8,975.7 1202,981.7 1215,987C1228,992.3 1247.7,999 1250,1005C1252.3,1011 1238.5,1017.7 1229,1023C1219.5,1028.3 1207.3,1033.8 1193,1037C1178.7,1040.2 1160.2,1042.7 1143,1042C1125.8,1041.3 1106,1036.8 1090,1033C1074,1029.2 1057.3,1023.2 1047,1019C1036.7,1014.8 1023.8,1014 1028,1008Z"/>
<radialGradient id="gIris" cx=".5" cy=".5" r=".5">
<stop offset="0" stop-color="#7c1020"/><stop offset=".28" stop-color="#a81c2c"/><stop offset=".5" stop-color="#d43444"/><stop offset=".82" stop-color="#ee5a62"/><stop offset="1" stop-color="#b62c3c"/>
</radialGradient>
<g id="eyes1"><g clip-path="url(#cpLE)"><use href="#shLE" fill="#954e64"/><ellipse cx="775" cy="915" rx="40" ry="16" transform="rotate(30 775 915)" fill="#c27684" opacity=".6" filter="url(#b6)"/><use href="#shLE" fill="none" stroke="#4e2440" stroke-width="20" opacity="0.9" filter="url(#b6)"/></g><g clip-path="url(#cpRE)"><use href="#shRE" fill="#954e64"/><ellipse cx="1140" cy="992" rx="70" ry="14" fill="#bd7282" opacity=".55" filter="url(#b6)"/><use href="#shRE" fill="none" stroke="#4e2440" stroke-width="20" opacity="0.9" filter="url(#b6)"/></g><circle cx="1153" cy="997" r="6" fill="#fff" opacity=".4" filter="url(#b6)"/><circle cx="1153" cy="997" r="4" fill="#fff"/></g>
<g id="eyes2"><use href="#shLE" fill="#ff3b6a" stroke="#ff3b6a" stroke-width="14" opacity=".5" filter="url(#b12)"/><use href="#shRE" fill="#ff3b6a" stroke="#ff3b6a" stroke-width="14" opacity=".5" filter="url(#b12)"/><g clip-path="url(#cpLE)"><use href="#shLE" fill="#ff3b50"/><ellipse cx="790" cy="938" rx="45" ry="20" transform="rotate(32 790 938)" fill="#ff6a78" opacity=".8" filter="url(#b6)"/><use href="#shLE" fill="none" stroke="#c81c3c" stroke-width="10" opacity="0.7" filter="url(#b6)"/></g><g clip-path="url(#cpRE)"><use href="#shRE" fill="#ff3b50"/><ellipse cx="1135" cy="1005" rx="70" ry="18" fill="#ff6a78" opacity=".8" filter="url(#b6)"/><use href="#shRE" fill="none" stroke="#c81c3c" stroke-width="10" opacity="0.7" filter="url(#b6)"/></g></g>
<g id="eyes3"><g clip-path="url(#cpLE)"><use href="#shLE" fill="#d3aab8"/><circle cx="807" cy="944" r="40" fill="url(#gIris)"/><circle cx="790" cy="925" r="5" fill="#ffb0b0" opacity=".7"/><use href="#shLE" fill="none" stroke="#6a4468" stroke-width="12" opacity="0.75" filter="url(#b6)"/></g><g clip-path="url(#cpRE)"><use href="#shRE" fill="#d3aab8"/><circle cx="1108" cy="1008" r="43" fill="url(#gIris)"/><use href="#shRE" fill="none" stroke="#6a4468" stroke-width="12" opacity="0.75" filter="url(#b6)"/></g><circle cx="1155" cy="1000" r="4.5" fill="#fff"/></g>
<g id="eyes4"><g clip-path="url(#cpLE)"><use href="#shLE" fill="#ba93a4"/><use href="#shLE" fill="none" stroke="#5e3c62" stroke-width="12" opacity="0.7" filter="url(#b6)"/></g><g clip-path="url(#cpRE)"><use href="#shRE" fill="#ba93a4"/><use href="#shRE" fill="none" stroke="#5e3c62" stroke-width="12" opacity="0.7" filter="url(#b6)"/></g></g>
<g id="iris4"><circle cx="809" cy="944" r="46" fill="#ff4660" opacity=".45" filter="url(#b6)"/><circle cx="1111" cy="1008" r="49" fill="#ff4660" opacity=".45" filter="url(#b6)"/><circle cx="809" cy="944" r="41" fill="#ff7a84"/><circle cx="809" cy="945" r="37.5" fill="#ff3a48"/><circle cx="1111" cy="1008" r="44" fill="#ff7a84"/><circle cx="1110" cy="1009" r="40.5" fill="#ff3a48"/></g>
<g id="eyes5"><g clip-path="url(#cpLE)"><use href="#shLE" fill="#e2546c"/><ellipse cx="778" cy="916" rx="42" ry="17" transform="rotate(30 778 916)" fill="#f58a96" opacity=".85" filter="url(#b6)"/><use href="#shLE" fill="none" stroke="#8a2848" stroke-width="14" opacity="0.8" filter="url(#b6)"/></g><g clip-path="url(#cpRE)"><use href="#shRE" fill="#e2546c"/><ellipse cx="1140" cy="992" rx="70" ry="14" fill="#f58a96" opacity=".8" filter="url(#b6)"/><use href="#shRE" fill="none" stroke="#8a2848" stroke-width="14" opacity="0.8" filter="url(#b6)"/></g><circle cx="1153" cy="995" r="9" fill="#fff" opacity=".65" filter="url(#b6)"/><circle cx="1153" cy="995" r="4.5" fill="#fff"/></g>
<g id="eyes6"><use href="#eyes3"/></g>
<g id="eyes7"><use href="#eyes2"/></g>

</defs>
<rect width="1920" height="1898" fill="#b1b1b1"/>
<g transform="translate(150,100) scale(0.263435)"><use href="#hairFull"/><use href="#bodyface"/><use href="#eyes1"/><use href="#facetop"/></g>
<g transform="translate(532,135) scale(0.263435)"><use href="#hairA"/><use href="#bodyface"/><use href="#eyes2"/><use href="#facetop"/></g>
<g transform="translate(150,540) scale(0.263435)"><use href="#hairFull"/><use href="#bodyface"/><use href="#eyes3"/><use href="#facetop"/></g>
<g transform="translate(536.4,561.4) scale(0.263435)"><use href="#hairB"/><use href="#bodyface"/><use href="#eyes4"/><use href="#facetop"/><use href="#iris4"/></g>
<g transform="translate(366,976) scale(0.263435)"><use href="#hairFull"/><use href="#bodyface"/><use href="#eyes5"/><use href="#facetop"/></g>
<g transform="translate(107.7,1383) scale(0.263435)"><use href="#hairFull"/><use href="#bodyface"/><use href="#eyes6"/><use href="#facetop"/></g>
<g transform="translate(531,1403) scale(0.263435)"><use href="#hairA"/><use href="#bodyface"/><use href="#eyes7"/><use href="#facetop"/></g>
<path id="drip5" d="M856,1391 L859.6,1393 L859.2,1424 L857.2,1430 Z" fill="#b2bbe6" opacity=".9"/>

<g id="labels">
<text class="t hd" x="314.5" y="117.5" textLength="220" lengthAdjust="spacingAndGlyphs">Idle gaze</text>
<text class="t hd" x="678.5" y="126.9" textLength="273.5" lengthAdjust="spacingAndGlyphs">Active gaze</text>
<text class="t bd" x="1022.8" y="356" textLength="711" lengthAdjust="spacingAndGlyphs">Full dark Eyes. Justified by the bats themselves,</text>
<text class="t bd" x="1021.8" y="396.7" textLength="733" lengthAdjust="spacingAndGlyphs">but directly gives a demonic vibe to the character</text>
<text class="t bd" x="1056" y="857.2" textLength="800" lengthAdjust="spacingAndGlyphs">A classic Sclera and Iris division. Gives a more relatable</text>
<text class="t bd" x="1056.5" y="896.1" textLength="766" lengthAdjust="spacingAndGlyphs">vibe while idle. False sense of security to attract prey</text>
<text class="t bd" x="876.5" y="1187.8" textLength="407" lengthAdjust="spacingAndGlyphs" style="font-size:34px">A unique semi-gloss gaze</text>
<text class="t bd" x="1022.5" y="1682.5" textLength="418" lengthAdjust="spacingAndGlyphs" style="font-size:34.5px">A combination of A and B</text>
<text class="hw" transform="translate(47,381) skewX(-3) scale(0.6,1)" font-size="180" opacity=".9">A</text>
<text class="hw" transform="translate(55,878) skewX(3) scale(0.7,1)" font-size="216" opacity=".9">B</text>
</g>

</svg>
</body>
</html>
